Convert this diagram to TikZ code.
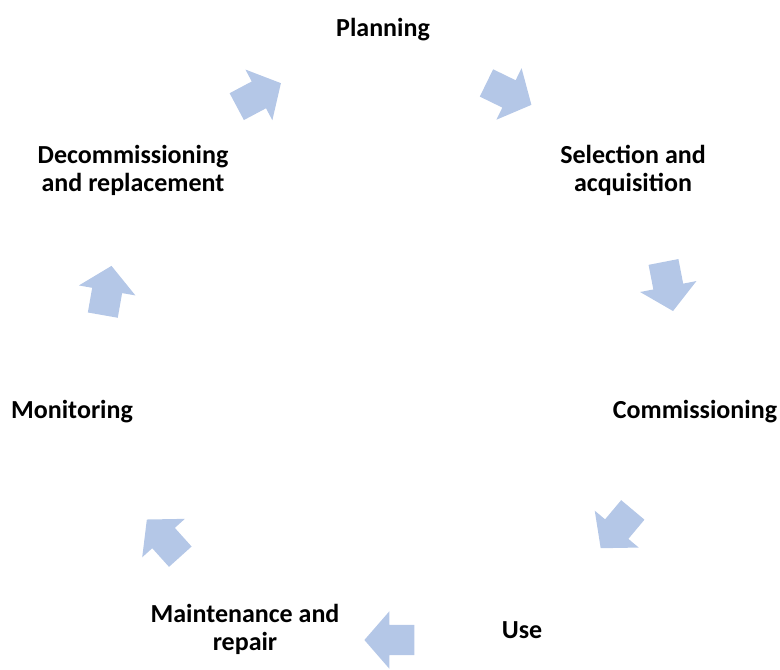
\documentclass[tikz,border=0pt]{standalone}
\usepackage{fontspec}
\setmainfont{Carlito}
\usetikzlibrary{shapes.arrows}
\definecolor{cycleblue}{HTML}{B4C7E7}

\begin{document}
\begin{tikzpicture}[x=1pt, y=-1pt, every node/.style={font=\bfseries\fontsize{26}{28}\selectfont, align=center},
  stagelabel/.style={inner sep=0pt},
  cyclearrow/.style={single arrow, fill=cycleblue, inner xsep=0pt, inner ysep=15pt, minimum height=50pt, single arrow head extend=13.5pt, single arrow tip angle=98}]
  \useasboundingbox (0,0) rectangle (780,670);
  % stage labels
  \node[stagelabel] (plan) at (383,30) {Planning};
  \node[stagelabel] (select) at (633,170) {Selection and\\acquisition};
  \node[stagelabel] (commis) at (695,412) {Commissioning};
  \node[stagelabel] (use) at (522,630) {Use};
  \node[stagelabel] (maint) at (245,629) {Maintenance and\\repair};
  \node[stagelabel] (monit) at (72,412) {Monitoring};
  \node[stagelabel] (decom) at (133,170) {Decommissioning\\and replacement};
  % block arrows round the cycle
  \node[cyclearrow, rotate=28] (decom-plan) at (253,98) {};
  \node[cyclearrow, rotate=-26] (plan-select) at (503,91) {};
  \node[cyclearrow, rotate=-79] (select-commis) at (667,280) {};
  \node[cyclearrow, rotate=-130] (commis-use) at (621,524) {};
  \node[cyclearrow, rotate=180] (use-maint) at (396,640) {};
  \node[cyclearrow, rotate=132] (maint-monit) at (168,543) {};
  \node[cyclearrow, rotate=80] (monit-decom) at (106,297) {};
\end{tikzpicture}
\end{document}
